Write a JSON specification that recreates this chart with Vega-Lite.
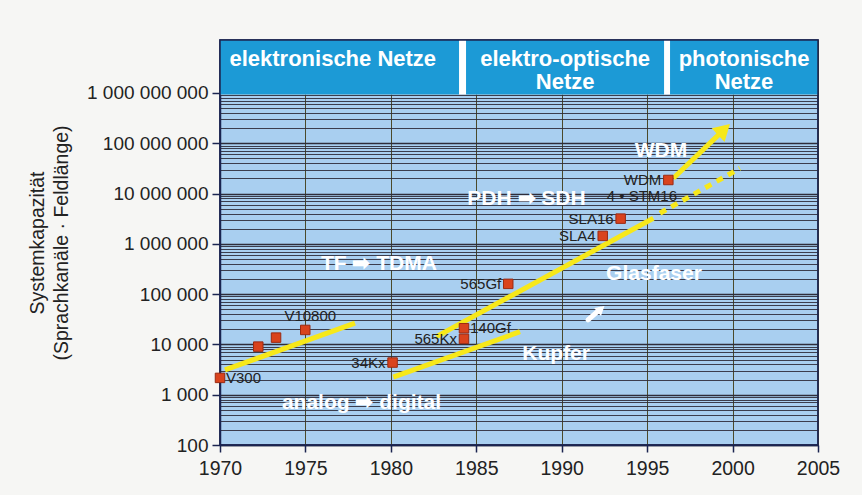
{
  "$schema": "https://vega.github.io/schema/vega-lite/v6.json",
  "width": 598,
  "height": 405,
  "autosize": {"type": "none"},
  "padding": {"left": 220, "top": 40, "right": 44, "bottom": 50},
  "background": "#f6f6f4",
  "config": {
    "view": {"fill": "#a9cff0", "stroke": "#1b2450", "strokeWidth": 1.5},
    "font": "Liberation Sans"
  },
  "datasets": {
    "frame": [
      {"part": "header", "year": 1970, "year2": 2005, "cap": 930000000, "cap2": 11300000000},
      {"part": "outline", "year": 1970, "year2": 2005, "cap": 100, "cap2": 11300000000}
    ],
    "header": [
      {"block": "elektronische Netze", "year": 1970, "year2": 1983.99, "cap": 930000000, "cap2": 11300000000},
      {"block": "elektro-optische Netze", "year": 1984.4, "year2": 1995.99, "cap": 930000000, "cap2": 11300000000},
      {"block": "photonische Netze", "year": 1996.34, "year2": 2005, "cap": 930000000, "cap2": 11300000000}
    ],
    "headertext": [
      {"text": "elektronische Netze", "year": 1976.6, "cap": 4740000000},
      {"text": "elektro-optische", "year": 1990.2, "cap": 4740000000},
      {"text": "Netze", "year": 1990.2, "cap": 1660000000},
      {"text": "photonische", "year": 2000.67, "cap": 4740000000},
      {"text": "Netze", "year": 2000.67, "cap": 1660000000}
    ],
    "points": [
      {"name": "V300", "year": 1970.0, "cap": 2160, "side": "right"},
      {"name": "", "year": 1972.24, "cap": 9040, "side": "none"},
      {"name": "", "year": 1973.28, "cap": 13650, "side": "none"},
      {"name": "V10800", "year": 1974.99, "cap": 19400, "side": "above"},
      {"name": "34Kx", "year": 1980.1, "cap": 4360, "side": "left"},
      {"name": "565Kx", "year": 1984.28, "cap": 12900, "side": "left"},
      {"name": "140Gf", "year": 1984.28, "cap": 21000, "side": "right"},
      {"name": "565Gf", "year": 1986.87, "cap": 160000, "side": "left"},
      {"name": "SLA4", "year": 1992.4, "cap": 1440000, "side": "left"},
      {"name": "SLA16", "year": 1993.45, "cap": 3170000, "side": "left"},
      {"name": "WDM", "year": 1996.24, "cap": 18600000, "side": "left"}
    ],
    "darknotes": [
      {"text": "4 • STM16", "year": 1996.75, "cap": 8900000}
    ],
    "lines": [
      {"seg": "analog", "year": 1970.29, "cap": 3110},
      {"seg": "analog", "year": 1977.9, "cap": 26400},
      {"seg": "kupfer", "year": 1980.14, "cap": 2230},
      {"seg": "kupfer", "year": 1987.56, "cap": 17900},
      {"seg": "glas", "year": 1982.67, "cap": 14300},
      {"seg": "glas", "year": 1995.36, "cap": 3230000},
      {"seg": "wdm", "year": 1996.53, "cap": 20100000},
      {"seg": "wdm", "year": 1999.5, "cap": 187000000},
      {"seg": "glasdot", "year": 1995.75, "cap": 4060000},
      {"seg": "glasdot", "year": 2000.43, "cap": 31800000},
      {"seg": "trend", "year": 1991.54, "cap": 30700},
      {"seg": "trend", "year": 1992.24, "cap": 49700}
    ],
    "heads": [
      {"head": "wdm", "year": 1999.5, "cap": 187000000},
      {"head": "trend", "year": 1992.3, "cap": 50700}
    ],
    "whitenotes": [
      {"text": "TF ➡ TDMA", "year": 1979.3, "cap": 398000},
      {"text": "PDH ➡ SDH", "year": 1987.94, "cap": 7710000},
      {"text": "WDM", "year": 1995.81, "cap": 71300000},
      {"text": "Glasfaser", "year": 1995.4, "cap": 252000},
      {"text": "Kupfer", "year": 1989.67, "cap": 6470},
      {"text": "analog ➡ digital", "year": 1978.28, "cap": 697}
    ]
  },
  "encoding": {
    "x": {
      "field": "year", "type": "quantitative",
      "scale": {"domain": [1970, 2005], "nice": false, "zero": false},
      "axis": {
        "values": [1970, 1975, 1980, 1985, 1990, 1995, 2000, 2005],
        "labelExpr": "'' + datum.value", "title": null,
        "grid": true, "gridColor": "#4b4a2a", "gridWidth": 1,
        "labelFontSize": 19.5, "labelColor": "#222222", "labelFlush": false, "labelPadding": 7,
        "tickSize": 7, "tickColor": "#1b2450", "tickWidth": 1.5,
        "domainColor": "#1b2450", "domainWidth": 1.5, "zindex": 0
      }
    },
    "y": {
      "field": "cap", "type": "quantitative",
      "scale": {"type": "log", "domain": [100, 11300000000], "nice": false},
      "axis": {
        "values": [100, 200, 300, 400, 500, 600, 700, 800, 900,
          1000, 2000, 3000, 4000, 5000, 6000, 7000, 8000, 9000,
          10000, 20000, 30000, 40000, 50000, 60000, 70000, 80000, 90000,
          100000, 200000, 300000, 400000, 500000, 600000, 700000, 800000, 900000,
          1000000, 2000000, 3000000, 4000000, 5000000, 6000000, 7000000, 8000000, 9000000,
          10000000, 20000000, 30000000, 40000000, 50000000, 60000000, 70000000, 80000000, 90000000,
          100000000, 200000000, 300000000, 400000000, 500000000, 600000000, 700000000, 800000000, 900000000,
          1000000000],
        "labelExpr": "abs(log(datum.value)/LN10 - round(log(datum.value)/LN10)) < 0.000001 ? replace(format(datum.value, ','), regexp(',', 'g'), ' ') : ''",
        "labelOverlap": false,
        "labelFontSize": 19, "labelColor": "#222222", "labelPadding": 4,
        "tickSize": 8, "tickColor": "#1b2450", "tickWidth": 1.5,
        "tickOpacity": {"condition": {"test": "abs(log(datum.value)/LN10 - round(log(datum.value)/LN10)) < 0.000001", "value": 1}, "value": 0},
        "grid": true, "gridColor": "#2f2d3a",
        "gridWidth": {"condition": {"test": "abs(log(datum.value)/LN10 - round(log(datum.value)/LN10)) < 0.000001", "value": 1.6}, "value": 0.9},
        "domainColor": "#1b2450", "domainWidth": 1.5,
        "title": ["Systemkapazität", "(Sprachkanäle · Feldlänge)"],
        "titleFontSize": 19.5, "titleFontWeight": "normal", "titleColor": "#222222",
        "titlePadding": 15, "titleLineHeight": 24, "zindex": 0
      }
    }
  },
  "layer": [
    {
      "data": {"name": "frame"},
      "transform": [{"filter": "datum.part == 'header'"}],
      "mark": {"type": "rect", "fill": "#ffffff"},
      "encoding": {"x2": {"field": "year2"}, "y2": {"field": "cap2"}}
    },
    {
      "data": {"name": "header"},
      "mark": {"type": "rect", "fill": "#1c9ad6"},
      "encoding": {"x2": {"field": "year2"}, "y2": {"field": "cap2"}}
    },
    {
      "data": {"name": "frame"},
      "transform": [{"filter": "datum.part == 'outline'"}],
      "mark": {"type": "rect", "fill": "transparent", "stroke": "#1b2450", "strokeWidth": 1.5},
      "encoding": {"x2": {"field": "year2"}, "y2": {"field": "cap2"}}
    },
    {
      "data": {"name": "headertext"},
      "mark": {"type": "text", "color": "#ffffff", "fontSize": 22, "fontWeight": "bold", "align": "center", "baseline": "middle"},
      "encoding": {"text": {"field": "text"}}
    },
    {
      "data": {"name": "lines"},
      "transform": [{"filter": "datum.seg == 'analog' || datum.seg == 'kupfer' || datum.seg == 'glas' || datum.seg == 'wdm'"}],
      "mark": {"type": "line", "color": "#f7e81a", "strokeWidth": 5, "strokeCap": "butt"},
      "encoding": {"detail": {"field": "seg"}}
    },
    {
      "data": {"name": "lines"},
      "transform": [{"filter": "datum.seg == 'glasdot'"}],
      "mark": {"type": "line", "color": "#f7e81a", "strokeWidth": 5, "strokeCap": "butt", "strokeDash": [7, 6]},
      "encoding": {}
    },
    {
      "data": {"name": "lines"},
      "transform": [{"filter": "datum.seg == 'trend'"}],
      "mark": {"type": "line", "color": "#ffffff", "strokeWidth": 5, "strokeCap": "round"},
      "encoding": {}
    },
    {
      "data": {"name": "heads"},
      "transform": [{"filter": "datum.head == 'wdm'"}],
      "mark": {"type": "point", "shape": "triangle-up", "size": 350, "angle": 46.6, "filled": true, "color": "#f7e81a", "opacity": 1}
    },
    {
      "data": {"name": "heads"},
      "transform": [{"filter": "datum.head == 'trend'"}],
      "mark": {"type": "point", "shape": "triangle-up", "size": 110, "angle": 49, "filled": true, "color": "#ffffff", "opacity": 1}
    },
    {
      "data": {"name": "points"},
      "mark": {"type": "point", "shape": "square", "size": 90, "filled": true, "fill": "#d9431d", "stroke": "#9a2a12", "strokeWidth": 1, "opacity": 1}
    },
    {
      "data": {"name": "points"},
      "transform": [{"filter": "datum.side == 'left'"}],
      "mark": {"type": "text", "align": "right", "baseline": "middle", "dx": -7, "fontSize": 15, "color": "#222222"},
      "encoding": {"text": {"field": "name"}}
    },
    {
      "data": {"name": "points"},
      "transform": [{"filter": "datum.side == 'right'"}],
      "mark": {"type": "text", "align": "left", "baseline": "middle", "dx": 6, "fontSize": 15, "color": "#222222"},
      "encoding": {"text": {"field": "name"}}
    },
    {
      "data": {"name": "points"},
      "transform": [{"filter": "datum.side == 'above'"}],
      "mark": {"type": "text", "align": "center", "baseline": "middle", "dx": 5, "dy": -14, "fontSize": 15, "color": "#222222"},
      "encoding": {"text": {"field": "name"}}
    },
    {
      "data": {"name": "darknotes"},
      "mark": {"type": "text", "align": "right", "baseline": "middle", "fontSize": 15, "color": "#222222"},
      "encoding": {"text": {"field": "text"}}
    },
    {
      "data": {"name": "whitenotes"},
      "mark": {"type": "text", "align": "center", "baseline": "middle", "fontSize": 21, "fontWeight": "bold", "color": "#ffffff"},
      "encoding": {"text": {"field": "text"}}
    }
  ]
}
